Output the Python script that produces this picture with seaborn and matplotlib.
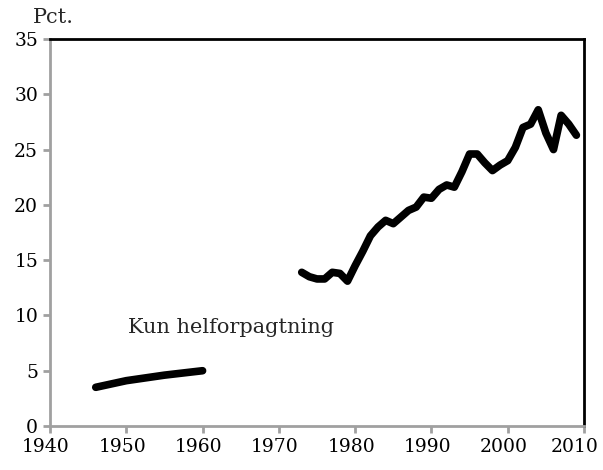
import pandas as pd
import matplotlib
matplotlib.use("Agg")
import matplotlib.pyplot as plt
import matplotlib.transforms as mtransforms
import seaborn as sns

# early period (only full tenancy)
early_years = [1946, 1950, 1955, 1960]
early_pct = [3.5, 4.1, 4.6, 5.0]

# later period
late_years = list(range(1973, 2010))
late_pct = [13.9, 13.5, 13.3, 13.3, 13.9, 13.8, 13.1, 14.5, 15.8, 17.2,
            18.0, 18.6, 18.3, 18.9, 19.5, 19.8, 20.7, 20.6, 21.4, 21.8,
            21.6, 23.0, 24.6, 24.6, 23.8, 23.1, 23.6, 24.0, 25.2, 27.0,
            27.3, 28.6, 26.5, 25.0, 28.1, 27.3, 26.3]

early = pd.DataFrame({"year": early_years, "pct": early_pct})
late = pd.DataFrame({"year": late_years, "pct": late_pct})

sns.set_style("white")
plt.rcParams["font.family"] = ["DejaVu Serif"]

fig = plt.figure(figsize=(6.03, 4.70), dpi=100)
ax = fig.add_axes([0.0829, 0.0936, 0.8856, 0.8234])

sns.lineplot(x="year", y="pct", data=early, color="black", linewidth=5.5, ax=ax)
sns.lineplot(x="year", y="pct", data=late, color="black", linewidth=5.5, ax=ax)

ax.set_xlim(1940, 2010)
ax.set_ylim(0, 35)
ax.set_xticks(range(1940, 2011, 10))
ax.set_yticks(range(0, 36, 5))
ax.set_xlabel("")
ax.set_ylabel("")

for side in ["left", "bottom"]:
    ax.spines[side].set_color("#a0a0a0")
    ax.spines[side].set_linewidth(2)
for side in ["top", "right"]:
    ax.spines[side].set_color("black")
    ax.spines[side].set_linewidth(2)

ax.tick_params(axis="both", which="major", direction="out", length=5, width=2,
               color="#a0a0a0", labelsize=13.5, labelcolor="black",
               bottom=True, left=True, top=False, right=False)

# nudge x labels a little left, like the original
xlabels = ax.get_xticklabels()
for i, lab in enumerate(xlabels):
    dx = -9 if i == len(xlabels) - 1 else -4
    lab.set_transform(lab.get_transform() +
                      mtransforms.ScaledTranslation(dx / 100, 0, fig.dpi_scale_trans))

ax.text(1950.2, 8.9, "Kun helforpagtning", fontsize=15, ha="left", va="center")
fig.text(0.088, 0.962, "Pct.", fontsize=15, ha="center", va="center")

fig.savefig("out.png", dpi=100)
